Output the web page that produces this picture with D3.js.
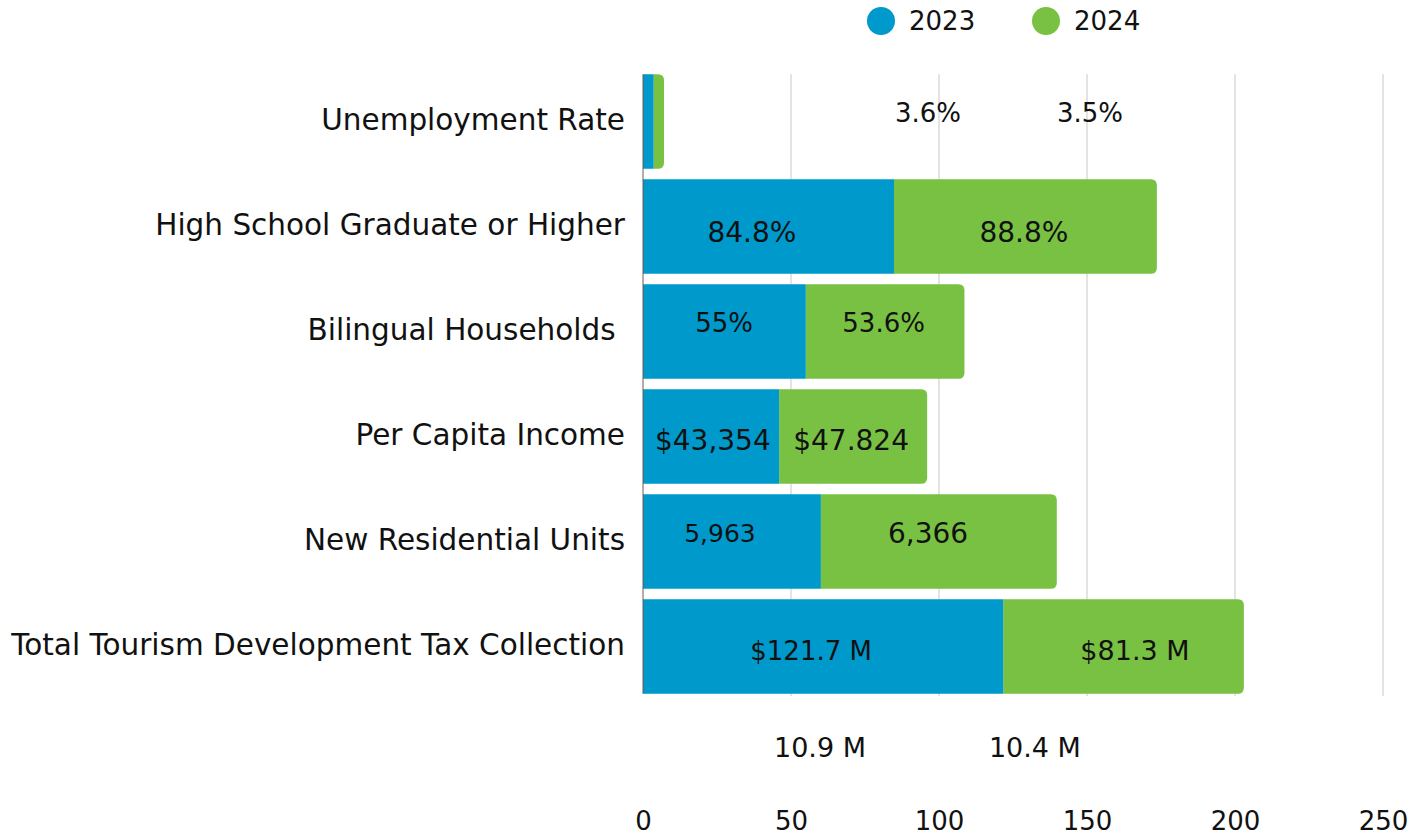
<!DOCTYPE html>
<html>
<head>
<meta charset="utf-8">
<script src="https://cdn.jsdelivr.net/npm/d3@7"></script>
<style>
  body { margin: 0; background: #fff; }
  svg { font-family: "DejaVu Sans", sans-serif; }
  text { white-space: pre; }
</style>
</head>
<body>
<div id="chart"></div>
<script>
// categories and values
var categories = [
  "Unemployment Rate",
  "High School Graduate or Higher",
  "Bilingual Households ",
  "Per Capita Income",
  "New Residential Units",
  "Total Tourism Development Tax Collection"
];
var values2023 = [3.6, 84.8, 55, 46, 60.1, 121.7];
var values2024 = [3.5, 88.8, 53.6, 50, 79.7, 81.3];
var labels2023 = ["3.6%", "84.8%", "55%", "$43,354", "5,963", "$121.7 M"];
var labels2024 = ["3.5%", "88.8%", "53.6%", "$47.824", "6,366", "$81.3 M"];
// where the value labels sit, in axis units
var labelAt2023 = [96.3, 36.8, 27.4, 23.6, 26, 56.8];
var labelAt2024 = [151, 128.7, 81.3, 70.3, 96.3, 166.2];
var labelShift = [-9, 6, -9, 4, -8, 4];
var labelSize2023 = [26, 28, 26, 28, 25, 26];
var labelSize2024 = [26, 28, 26, 28, 28, 27];
// two stray labels below the last row
var extraLabels = ["10.9 M", "10.4 M"];
var extraAt = [59.8, 132.4];
var ticks = [0, 50, 100, 150, 200, 250];
var seriesNames = ["2023", "2024"];
var colors = ["#0099cc", "#79c143"];

var width = 1426, height = 837;

var svg = d3.select("#chart").append("svg")
  .attr("width", width)
  .attr("height", height);

var x = d3.scaleLinear().domain([0, 250]).range([643, 1383]);
var y = d3.scaleBand().domain(categories).range([69, 699])
  .paddingInner(0.1).paddingOuter(0.05);

//grid lines
svg.append("g")
  .selectAll("line")
  .data(ticks.filter((d) => d > 0))
  .join("line")
  .attr("x1", (d) => x(d)).attr("x2", (d) => x(d))
  .attr("y1", y(categories[0])).attr("y2", 696)
  .attr("stroke", "#c8c8c8")
  .attr("stroke-width", 1);

// green bar with rounded right end
function roundRight(x0, x1, y0, h, r) {
  r = Math.min(r, (x1 - x0));
  return "M" + x0 + "," + y0 +
    "H" + (x1 - r) +
    "Q" + x1 + "," + y0 + " " + x1 + "," + (y0 + r) +
    "V" + (y0 + h - r) +
    "Q" + x1 + "," + (y0 + h) + " " + (x1 - r) + "," + (y0 + h) +
    "H" + x0 + "Z";
}

var rows = categories.map(function (c, i) {
  return { cat: c, a: values2023[i], b: values2024[i], i: i };
});

svg.append("g")
  .selectAll("path")
  .data(rows)
  .join("path")
  .attr("d", (d) => roundRight(x(d.a), x(d.a + d.b), y(d.cat), y.bandwidth(), 6))
  .attr("fill", colors[1]);

svg.append("g")
  .selectAll("rect")
  .data(rows)
  .join("rect")
  .attr("x", x(0))
  .attr("y", (d) => y(d.cat))
  .attr("width", (d) => x(d.a) - x(0))
  .attr("height", y.bandwidth())
  .attr("fill", colors[0]);

// left axis line
svg.append("line")
  .attr("x1", x(0)).attr("x2", x(0))
  .attr("y1", y(categories[0])).attr("y2", y(categories[5]) + y.bandwidth())
  .attr("stroke", "#6b5a55")
  .attr("stroke-width", 1);

// category labels
svg.append("g")
  .selectAll("text")
  .data(categories)
  .join("text")
  .attr("x", 625)
  .attr("y", (d) => y(d) + y.bandwidth() / 2 - 2)
  .attr("text-anchor", "end")
  .attr("dominant-baseline", "central")
  .attr("font-size", 29.5)
  .attr("fill", "#111")
  .text((d) => d);

// value labels
var vl = svg.append("g").attr("fill", "#111").attr("text-anchor", "middle");
rows.forEach(function (d) {
  var cy = y(d.cat) + y.bandwidth() / 2 + labelShift[d.i];
  vl.append("text")
    .attr("x", x(labelAt2023[d.i]))
    .attr("y", cy)
    .attr("dominant-baseline", "central")
    .attr("font-size", labelSize2023[d.i])
    .text(labels2023[d.i]);
  vl.append("text")
    .attr("x", x(labelAt2024[d.i]))
    .attr("y", cy)
    .attr("dominant-baseline", "central")
    .attr("font-size", labelSize2024[d.i])
    .text(labels2024[d.i]);
});

vl.selectAll("text.extra")
  .data(extraLabels)
  .join("text")
  .attr("class", "extra")
  .attr("x", (d, i) => x(extraAt[i]))
  .attr("y", y(categories[5]) + y.step() + y.bandwidth() / 2 - 4)
  .attr("dominant-baseline", "central")
  .attr("font-size", 27)
  .text((d) => d);

// x axis
var axis = svg.append("g")
  .attr("transform", "translate(0,800)")
  .call(d3.axisBottom(x).tickValues(ticks).tickSize(0).tickFormat(d3.format("d")));
axis.select(".domain").remove();
axis.selectAll("text")
  .attr("y", 21)
  .attr("dy", null)
  .attr("dominant-baseline", "central")
  .attr("font-size", 26)
  .attr("font-family", "DejaVu Sans, sans-serif")
  .attr("fill", "#111");

// legend
var legend = svg.append("g");
var legendX = [881, 1046];
seriesNames.forEach(function (name, i) {
  legend.append("circle")
    .attr("cx", legendX[i]).attr("cy", 21).attr("r", 14)
    .attr("fill", colors[i]);
  legend.append("text")
    .attr("x", legendX[i] + 28).attr("y", 21)
    .attr("dominant-baseline", "central")
    .attr("font-size", 26)
    .attr("fill", "#111")
    .text(name);
});
</script>
</body>
</html>
